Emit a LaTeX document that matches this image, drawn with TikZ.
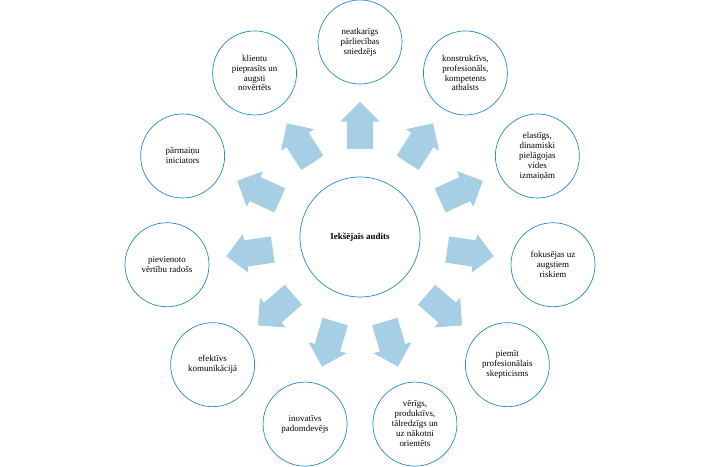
\documentclass[tikz,border=0pt]{standalone}
\usepackage{fontspec}
\setmainfont{Liberation Serif}
\usetikzlibrary{shapes.arrows,calc}
\definecolor{ringblue}{RGB}{30,140,200}
\definecolor{arrowblue}{RGB}{166,206,228}
\tikzset{
  ring/.style={draw=ringblue,line width=0.7pt,circle,minimum size=84bp,inner sep=0pt,align=center,font=\fontsize{9}{10}\selectfont},
  bigarrow/.style={single arrow,fill=arrowblue,inner xsep=0pt,inner ysep=13bp,single arrow head extend=6.5bp,minimum height=47bp}
}
\begin{document}
\begin{tikzpicture}[x=1bp,y=1bp]
\useasboundingbox (0,0) rectangle (718,467);
\node[ring,minimum size=120bp,font=\fontsize{9}{10}\selectfont\bfseries] (audit) at (360,230) {Iekšējais audits};
\foreach \t [count=\i] in {{neatkarīgs\\pārliecības\\sniedzējs},
    {konstruktīvs,\\profesionāls,\\kompetents\\atbalsts},
    {elastīgs,\\dinamiski\\pielāgojas\\vides\\izmaiņām},
    {fokusējas uz\\augstiem\\riskiem},
    {piemīt\\profesionālais\\skepticisms},
    {vērīgs,\\produktīvs,\\tālredzīgs un\\uz nākotni\\orientēts},
    {inovatīvs\\padomdevējs},
    {efektīvs\\komunikācijā},
    {pievienoto\\vērtību radošs},
    {pārmaiņu\\iniciators},
    {klientu\\pieprasīts un\\augsti\\novērtēts}} {
  \pgfmathsetmacro\a{90-(\i-1)*360/11}
  \node[bigarrow,rotate=\a] (arr\i) at ($(audit)+(\a:105)$) {};
  \node[ring] (q\i) at ($(audit)+(\a:195)$) {\t};
}
\end{tikzpicture}
\end{document}
